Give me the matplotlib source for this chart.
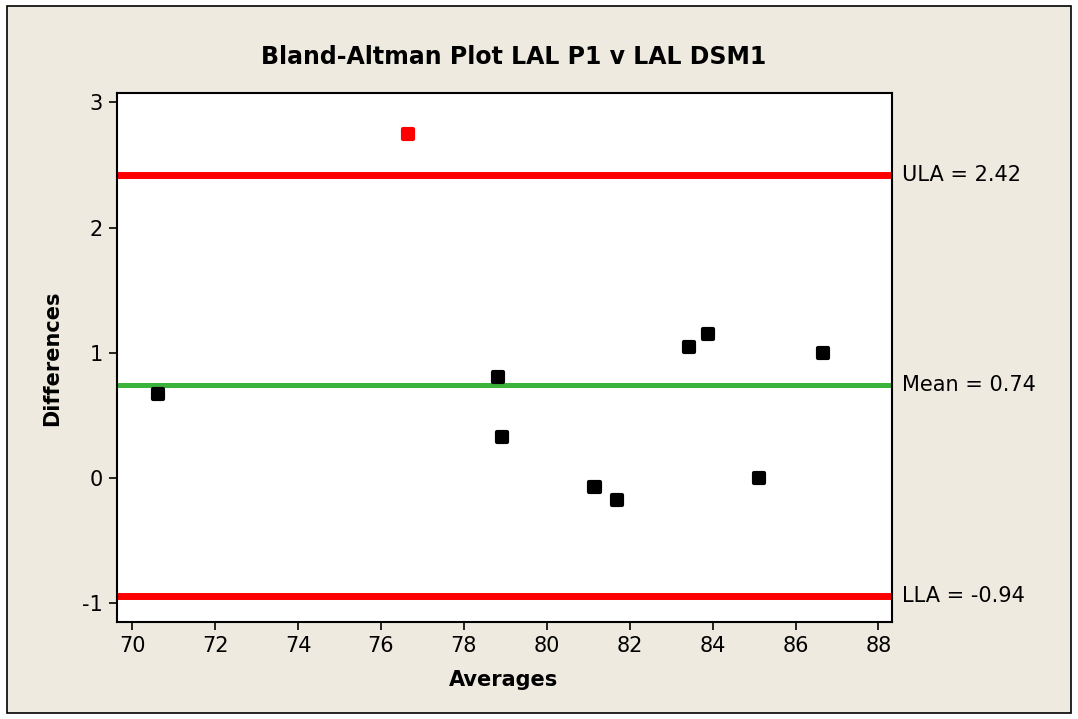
import matplotlib
matplotlib.use("Agg")
import matplotlib.pyplot as plt
from matplotlib.patches import Rectangle

averages = [70.63, 76.65, 78.83, 78.91, 81.15, 81.70, 83.42, 83.88, 85.12, 86.66]
differences = [0.673, 2.747, 0.806, 0.327, -0.071, -0.177, 1.045, 1.151, 0.0, 0.997]
mean_diff = 0.74
ula = 2.42
lla = -0.94
xticks = [70, 72, 74, 76, 78, 80, 82, 84, 86, 88]
yticks = [-1, 0, 1, 2, 3]
title = "Bland-Altman Plot LAL P1 v LAL DSM1"

bg = "#EEEAE0"
plt.rcParams['font.family'] = ['DejaVu Sans']

W, H = 1078, 719
fig = plt.figure(figsize=(W / 100, H / 100), dpi=100)
fig.patch.set_facecolor("white")
fig.patches.append(Rectangle((7 / W, 6 / H), (1071 - 7) / W, (713 - 6) / H,
                             transform=fig.transFigure, facecolor=bg,
                             edgecolor="black", linewidth=1.2, zorder=-5))

ax = fig.add_axes([117 / W, 1 - 621.7 / H, (891.7 - 117) / W, (621.7 - 93) / H])
ax.set_zorder(2)
ax.set_facecolor("white")
ax.set_xlim(69.63, 88.32)
ax.set_ylim(-1.147, 3.075)

ax.axhline(ula, color="#FF0000", lw=5, zorder=2, solid_capstyle="butt")
ax.axhline(lla, color="#FF0000", lw=5, zorder=2, solid_capstyle="butt")
ax.axhline(mean_diff, color="#3CB43C", lw=3.6, zorder=2, solid_capstyle="butt")

colors = ["#FF0000" if d > ula or d < lla else "black" for d in differences]
ax.scatter(averages, differences, s=52, marker="s", c=colors, zorder=3,
           edgecolors=colors, linewidths=3, joinstyle="round")

ax.set_xticks(xticks)
ax.set_yticks(yticks)
ax.set_xticklabels([str(t) for t in xticks])
ax.set_yticklabels([str(t) for t in yticks])
ax.tick_params(axis="both", labelsize=15, length=6, width=1.2, pad=4, colors="black")
for s in ax.spines.values():
    s.set_linewidth(1.5)
    s.set_color("black")

trans = ax.get_yaxis_transform()
for val, txt in [(ula, "ULA = 2.42"), (mean_diff, "Mean = 0.74"), (lla, "LLA = -0.94")]:
    ax.text(1.013, val, txt, transform=trans, fontsize=15, va="center", ha="left")

fig.text(514 / W, 1 - 57 / H, title, fontsize=17, fontweight="bold", ha="center", va="center")
fig.text(504 / W, 1 - 680 / H, "Averages", fontsize=15, fontweight="bold", ha="center", va="center")
fig.text(52 / W, 1 - 358 / H, "Differences", fontsize=15, fontweight="bold", ha="center",
         va="center", rotation=90)

fig.savefig("out.png", dpi=100, facecolor=fig.get_facecolor())
